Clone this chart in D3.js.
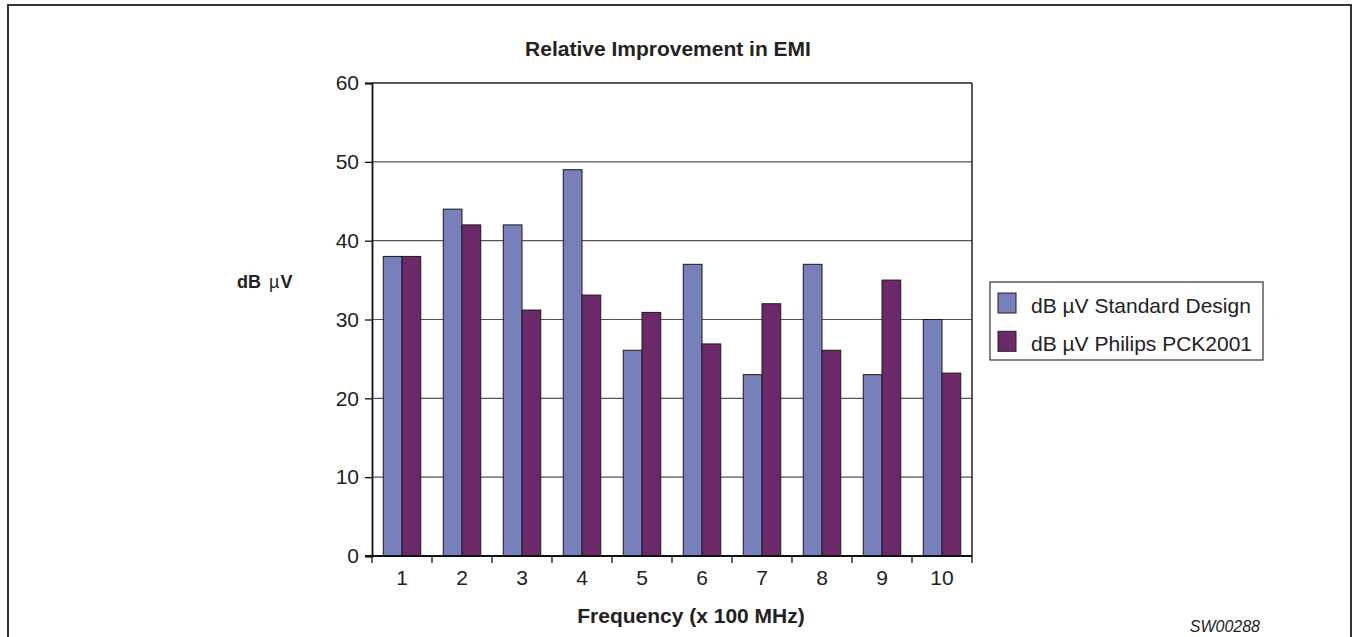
<!DOCTYPE html>
<html><head><meta charset="utf-8">
<script src="https://cdn.jsdelivr.net/npm/d3@7"></script>
<style>body{margin:0;background:#fff}svg{display:block;font-family:"Liberation Sans",Arial,sans-serif}</style>
</head><body><svg id="c" width="1352" height="637"></svg>
<script>
const categories = ["1","2","3","4","5","6","7","8","9","10"];
const standardDesign = [38, 44, 42, 49, 26.1, 37, 23, 37, 23, 30];
const philipsPCK2001 = [38, 42, 31.2, 33.1, 30.9, 26.9, 32, 26.1, 35, 23.2];
const seriesNames = ["dB \u00b5V Standard Design", "dB \u00b5V Philips PCK2001"];
const yTicks = [0, 10, 20, 30, 40, 50, 60];
const colors = ["#7880bc", "#6c296a"];

const svg = d3.select("#c");
// outer frame
svg.append("rect").attr("x", 8).attr("y", 5).attr("width", 1343).attr("height", 640)
  .attr("fill", "none").attr("stroke", "#333").attr("stroke-width", 2);

const L = 372, R = 972, T = 83, B = 556;
const x = d3.scaleBand().domain(categories).range([L, R]).paddingInner(0).paddingOuter(0);
const x1 = d3.scaleBand().domain([0, 1]).range([0, x.bandwidth()]).paddingOuter(0.6).paddingInner(0);
const y = d3.scaleLinear().domain([0, 60]).range([B, T]);

// gridlines
svg.append("g").selectAll("line").data(yTicks.filter(t => t > 0 && t < 60)).join("line")
  .attr("x1", L).attr("x2", R).attr("y1", d => y(d)).attr("y2", d => y(d))
  .attr("stroke", "#555").attr("stroke-width", 1.2);
// plot frame top/right
svg.append("line").attr("x1", L).attr("x2", R).attr("y1", T).attr("y2", T).attr("stroke", "#222").attr("stroke-width", 1.5);
svg.append("line").attr("x1", R).attr("x2", R).attr("y1", T).attr("y2", B).attr("stroke", "#222").attr("stroke-width", 1.5);

// bars
const data = categories.map((c, i) => ({c, v: [standardDesign[i], philipsPCK2001[i]]}));
const g = svg.append("g");
data.forEach(d => {
  d.v.forEach((v, s) => {
    g.append("rect")
      .attr("x", x(d.c) + x1(s)).attr("width", x1.bandwidth())
      .attr("y", y(v)).attr("height", y(0) - y(v))
      .attr("fill", colors[s]).attr("stroke", "#1a1a1a").attr("stroke-width", 1);
  });
});

// y axis
const ya = svg.append("g").attr("transform", `translate(${L},0)`)
  .call(d3.axisLeft(y).tickValues(yTicks).tickSize(7).tickPadding(6));
ya.select(".domain").attr("stroke", "#111").attr("stroke-width", 1.8);
ya.selectAll(".tick line").attr("stroke", "#111").attr("stroke-width", 1.3);
ya.selectAll("text").attr("font-size", 21).attr("fill", "#222").attr("font-family", "Liberation Sans, Arial, sans-serif");

// x axis
const xa = svg.append("g").attr("transform", `translate(0,${B})`)
  .call(d3.axisBottom(x).tickSize(0).tickPadding(14));
xa.select(".domain").remove();
xa.append("line").attr("x1", L - 7).attr("x2", R).attr("y1", 0).attr("y2", 0).attr("stroke", "#111").attr("stroke-width", 1.8);
xa.selectAll(".tick text").attr("font-size", 21).attr("fill", "#222").attr("font-family", "Liberation Sans, Arial, sans-serif");
const bounds = categories.map(c => x(c)).concat([R]);
xa.selectAll(".bt").data(bounds).join("line").attr("class", "bt")
  .attr("x1", d => d).attr("x2", d => d).attr("y1", 0).attr("y2", 7)
  .attr("stroke", "#111").attr("stroke-width", 1.3);

// title
svg.append("text").attr("x", 668).attr("y", 56).attr("text-anchor", "middle")
  .attr("font-size", 21).attr("font-weight", "bold").attr("fill", "#222").text("Relative Improvement in EMI");
// x title
svg.append("text").attr("x", 691).attr("y", 623).attr("text-anchor", "middle")
  .attr("font-size", 21).attr("font-weight", "bold").attr("fill", "#222").text("Frequency (x 100 MHz)");
// y title
const yt = svg.append("text").attr("x", 237).attr("y", 288).attr("text-anchor", "start")
  .attr("font-size", 18).attr("font-weight", "bold").attr("fill", "#222");
yt.append("tspan").text("dB");
yt.append("tspan").attr("dx", 8).attr("font-weight", "normal").text("\u00b5");
yt.append("tspan").attr("dx", 1).text("V");

// legend
const lg = svg.append("g");
lg.append("rect").attr("x", 990).attr("y", 282).attr("width", 273).attr("height", 78)
  .attr("fill", "#fff").attr("stroke", "#333").attr("stroke-width", 1.2);
seriesNames.forEach((n, i) => {
  const yy = 293 + i * 38.3;
  lg.append("rect").attr("x", 998).attr("y", yy).attr("width", 18).attr("height", 20)
    .attr("fill", colors[i]).attr("stroke", "#222").attr("stroke-width", 1);
  lg.append("text").attr("x", 1031).attr("y", yy + 20).attr("font-size", 21).attr("fill", "#222").text(n);
});

// code
svg.append("text").attr("x", 1260).attr("y", 632).attr("text-anchor", "end")
  .attr("font-size", 16).attr("font-style", "italic").attr("fill", "#222").text("SW00288");
</script></body></html>
